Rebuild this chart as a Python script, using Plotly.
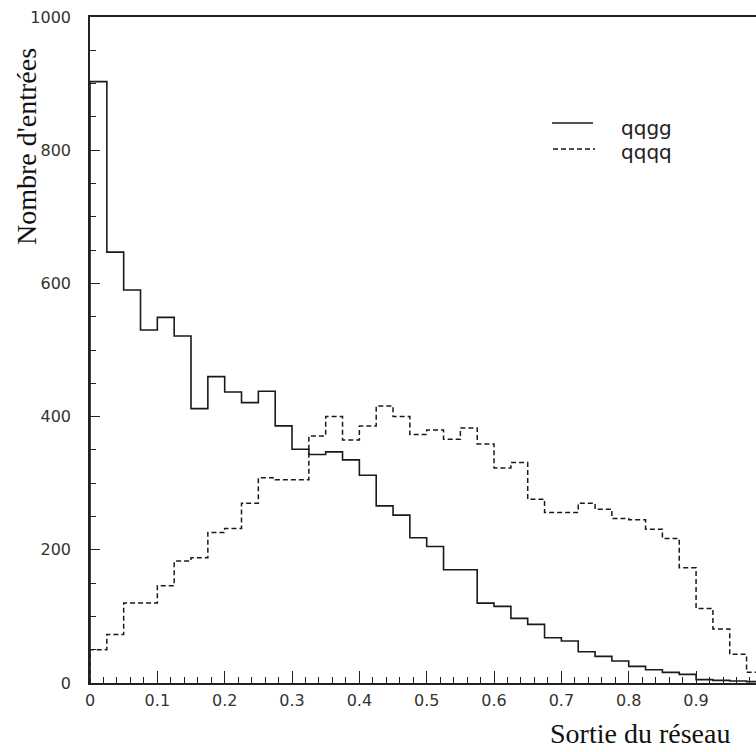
import plotly.graph_objects as go

# ---- data (40 bins of width 0.025 on [0, 1]) ----
bin_start = 0.0
bin_width = 0.025
qqgg = [903, 647, 590, 530, 549, 521, 412, 460, 437, 421,
        438, 386, 351, 343, 347, 335, 312, 266, 252, 218,
        205, 170, 170, 120, 115, 97, 88, 68, 63, 47,
        40, 33, 25, 20, 16, 13, 5, 4, 3, 2]
qqqq = [50, 73, 120, 120, 146, 183, 188, 226, 232, 270,
        308, 305, 305, 371, 400, 365, 386, 416, 400, 373,
        380, 366, 383, 359, 323, 331, 276, 256, 256, 270,
        261, 247, 245, 231, 217, 173, 112, 81, 43, 16]
x_ticks = [0, 0.1, 0.2, 0.3, 0.4, 0.5, 0.6, 0.7, 0.8, 0.9]
x_ticklabels = ["0", "0.1", "0.2", "0.3", "0.4", "0.5", "0.6", "0.7", "0.8", "0.9"]
y_ticks = [0, 200, 400, 600, 800, 1000]
y_ticklabels = ["0", "200", "400", "600", "800", "1000"]
series_names = ["qqgg", "qqqq"]


def step_xy(counts):
    n = len(counts)
    edges = [bin_start + i * bin_width for i in range(n + 1)]
    xs = [edges[0]] + edges
    ys = [0] + list(counts) + [0]
    return xs, ys


fig = go.Figure()
xs, ys = step_xy(qqgg)
fig.add_trace(go.Scatter(x=xs, y=ys, mode="lines", line_shape="hv", name=series_names[0],
                         line=dict(color="#1a1a1a", width=1.6), showlegend=False,
                         cliponaxis=True))
xs, ys = step_xy(qqqq)
fig.add_trace(go.Scatter(x=xs, y=ys, mode="lines", line_shape="hv", name=series_names[1],
                         line=dict(color="#1a1a1a", width=1.5, dash="5px,3px"), showlegend=False,
                         cliponaxis=True))

tick_font = dict(family="DejaVu Sans", size=16, color="#333333")

fig.update_xaxes(range=[0, 0.989], tickvals=x_ticks, ticktext=x_ticklabels,
                 ticks="inside", ticklen=12, tickwidth=1.2, tickcolor="#222",
                 minor=dict(dtick=0.02, ticks="inside", ticklen=6, tickwidth=1, tickcolor="#222"),
                 showline=True, linecolor="#222", linewidth=1.5, mirror=True,
                 showgrid=False, zeroline=False, tickfont=tick_font, ticklabelstandoff=2)
fig.update_yaxes(range=[0, 1000], tickvals=y_ticks, ticktext=y_ticklabels,
                 ticks="inside", ticklen=10, tickwidth=1.2, tickcolor="#222",
                 minor=dict(dtick=50, ticks="inside", ticklen=6, tickwidth=1, tickcolor="#222"),
                 showline=True, linecolor="#222", linewidth=1.5, mirror=False,
                 showgrid=False, zeroline=False, tickfont=tick_font, ticklabelstandoff=14)

title_font = dict(family="Liberation Serif", size=28, color="#111")
legend_font = dict(family="DejaVu Sans", size=20, color="#222")

annotations = [
    dict(text="Nombre d'entrées", xref="paper", yref="paper", x=-0.0953, y=0.8056,
         xanchor="center", yanchor="middle", textangle=-90, showarrow=False, font=title_font),
    dict(text="Sortie du réseau", xref="paper", yref="paper", x=0.826, y=-0.1015,
         xanchor="center", yanchor="bottom", showarrow=False, font=title_font),
    dict(text=series_names[0], xref="paper", yref="paper", x=0.7943, y=0.8333,
         xanchor="left", yanchor="middle", showarrow=False, font=legend_font),
    dict(text=series_names[1], xref="paper", yref="paper", x=0.7943, y=0.797,
         xanchor="left", yanchor="middle", showarrow=False, font=legend_font),
]
shapes = [
    dict(type="line", xref="paper", yref="paper", x0=0.6937, x1=0.7553, y0=0.8408, y1=0.8408,
         line=dict(color="#1a1a1a", width=1.6)),
    dict(type="line", xref="paper", yref="paper", x0=0.6952, x1=0.7583, y0=0.8018, y1=0.8018,
         line=dict(color="#1a1a1a", width=1.5, dash="5px,3px")),
]

fig.update_layout(width=756, height=752, margin=dict(l=90, r=0, t=17, b=69),
                  paper_bgcolor="white", plot_bgcolor="white",
                  annotations=annotations, shapes=shapes, showlegend=False)

fig.write_html("out.html")
